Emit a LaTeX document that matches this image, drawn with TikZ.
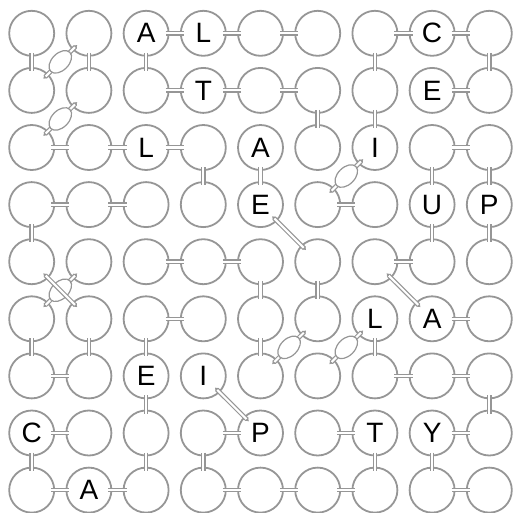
\documentclass[tikz,border=0pt]{standalone}
\usepackage{fontspec}
\setmainfont{Liberation Sans}
\usetikzlibrary{calc,arrows.meta,shapes.geometric}
\definecolor{lg}{RGB}{150,150,150}
\newcommand\setlt[3]{\expandafter\def\csname lt#1-#2\endcsname{#3}}
\setlt{2}{0}{A}\setlt{3}{0}{L}\setlt{7}{0}{C}
\setlt{3}{1}{T}\setlt{7}{1}{E}
\setlt{2}{2}{L}\setlt{4}{2}{A}\setlt{6}{2}{I}
\setlt{4}{3}{E}\setlt{7}{3}{U}\setlt{8}{3}{P}
\setlt{6}{5}{L}\setlt{7}{5}{A}
\setlt{2}{6}{E}\setlt{3}{6}{I}
\setlt{0}{7}{C}\setlt{4}{7}{P}\setlt{6}{7}{T}\setlt{7}{7}{Y}
\setlt{1}{8}{A}
\begin{document}
\begin{tikzpicture}[x=1pt,y=1pt,
  cell/.style={circle, draw=lg, line width=1.8pt, minimum size=45pt, inner sep=0pt,
    font=\fontsize{28}{33}\selectfont},
  link/.style={draw=lg, line width=1.2pt, double=white, double distance=2.1pt,
    shorten <=19.5pt, shorten >=19.5pt},
  dlink/.style={draw=lg, line width=1.2pt, double=white, double distance=2.1pt,
    shorten <=16.5pt, shorten >=16.5pt, {Latex[length=3pt,width=5pt]}-{Latex[length=3pt,width=5pt]}},
  knot/.style={ellipse, draw=lg, fill=white, line width=1.2pt, minimum width=27pt,
    minimum height=17pt, inner sep=0pt, rotate=45}]
\useasboundingbox (0,0) rectangle (516,-512);
\foreach \cc in {0,...,8}{
  \foreach \rr in {0,...,8}{
    \node[cell] (c\cc r\rr) at ({31.7+57.2*\cc},{-33.3-57.1*\rr}) {\csname lt\cc-\rr\endcsname};
  }
}
% horizontal links
\foreach \a/\b in {c2r0/c3r0,c3r0/c4r0,c4r0/c5r0,c6r0/c7r0,c7r0/c8r0,
  c2r1/c3r1,c3r1/c4r1,c4r1/c5r1,c7r1/c8r1,
  c0r2/c1r2,c1r2/c2r2,c2r2/c3r2,c7r2/c8r2,
  c0r3/c1r3,c1r3/c2r3,c5r3/c6r3,
  c2r4/c3r4,c3r4/c4r4,c6r4/c7r4,
  c2r5/c3r5,c7r5/c8r5,
  c0r6/c1r6,c6r6/c7r6,c7r6/c8r6,
  c0r7/c1r7,c3r7/c4r7,c5r7/c6r7,c7r7/c8r7,
  c0r8/c1r8,c1r8/c2r8,c3r8/c4r8,c4r8/c5r8,c5r8/c6r8,c7r8/c8r8}
  \draw[link] (\a.center) -- (\b.center);
% vertical links
\foreach \a/\b in {c0r0/c0r1,c1r0/c1r1,c2r0/c2r1,c6r0/c6r1,c8r0/c8r1,
  c5r1/c5r2,c6r1/c6r2,
  c3r2/c3r3,c4r2/c4r3,c7r2/c7r3,c8r2/c8r3,
  c0r3/c0r4,c7r3/c7r4,c8r3/c8r4,
  c4r4/c4r5,c5r4/c5r5,
  c0r5/c0r6,c1r5/c1r6,c2r5/c2r6,c4r5/c4r6,c6r5/c6r6,
  c2r6/c2r7,c8r6/c8r7,
  c0r7/c0r8,c2r7/c2r8,c3r7/c3r8,c6r7/c6r8,c7r7/c7r8}
  \draw[link] (\a.center) -- (\b.center);
% rising diagonal links with knot
\foreach \a/\b/\k in {c0r1/c1r0/k1,c0r2/c1r1/k2,c5r3/c6r2/k3,c0r5/c1r4/k4,c4r6/c5r5/k5,c5r6/c6r5/k6}{
  \draw[dlink] (\a.center) -- (\b.center);
  \node[knot] (\k) at ($(\a)!0.5!(\b)$) {};
}
% falling diagonal links
\foreach \a/\b in {c4r3/c5r4,c0r4/c1r5,c6r4/c7r5,c3r6/c4r7}
  \draw[dlink] (\a.center) -- (\b.center);
\end{tikzpicture}
\end{document}
